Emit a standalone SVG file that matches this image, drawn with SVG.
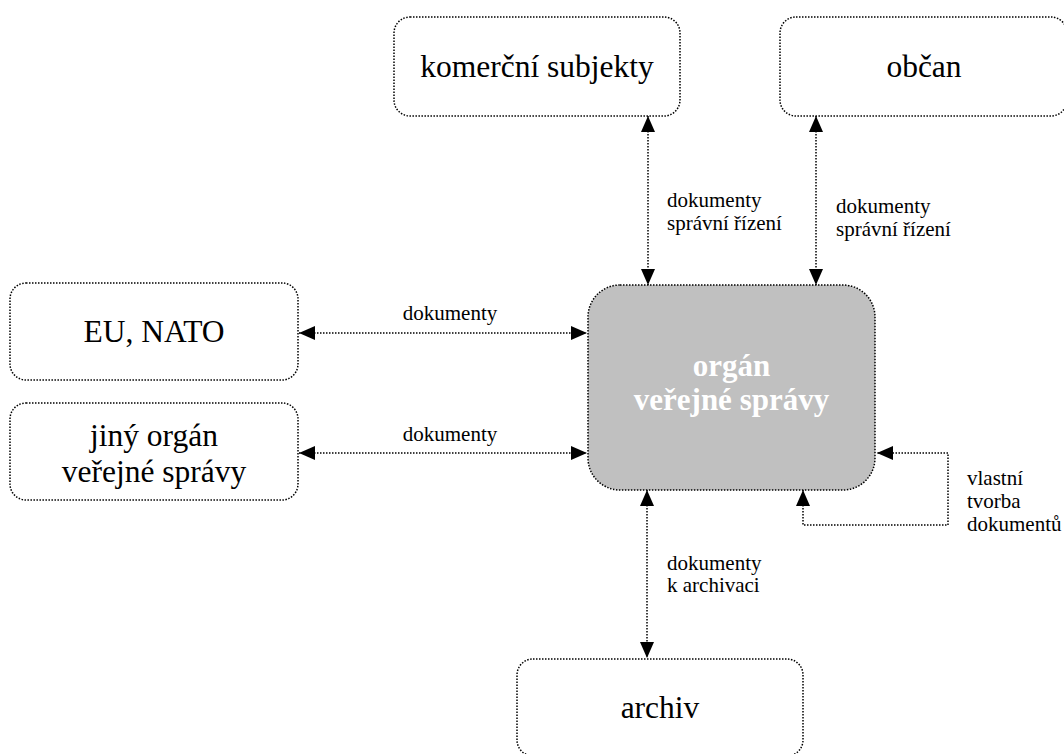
<svg xmlns="http://www.w3.org/2000/svg" width="1064" height="754" viewBox="0 0 1064 754">
<defs>
<marker id="ah" viewBox="0 0 16 14" refX="16" refY="7" markerWidth="16" markerHeight="14" markerUnits="userSpaceOnUse" orient="auto-start-reverse">
<path d="M0,0 L16,7 L0,14 Z" fill="#000"/>
</marker>
</defs>
<style>
.box{fill:#fff;stroke:#000;stroke-width:1.5;stroke-dasharray:1.5 1.5}
.main{fill:#c0c0c0;stroke:#000;stroke-width:1.5;stroke-dasharray:1.5 1.5}
text{font-family:'Liberation Serif','Times New Roman',Times,serif}
.big{font-size:31.5px;fill:#000;text-anchor:middle}
.bold{font-size:31px;font-weight:bold;fill:#fff;text-anchor:middle}
.lbl{font-size:21px;fill:#000}
.con{fill:none;stroke:#000;stroke-width:1.5;stroke-dasharray:1.5 1.5}
</style>
<rect width="1064" height="754" fill="#fff"/>
<g id="komercni">
<rect class="box" x="394" y="17" width="286" height="99" rx="16"/>
<text class="big" x="537" y="77" font-family="Liberation Serif, serif">komerční subjekty</text>
</g>
<g id="obcan">
<rect class="box" x="780" y="17" width="287" height="99" rx="16"/>
<text class="big" x="924" y="77" font-family="Liberation Serif, serif">občan</text>
</g>
<g id="eu">
<rect class="box" x="10" y="283" width="288" height="97" rx="16"/>
<text class="big" x="154" y="342" font-family="Liberation Serif, serif">EU, NATO</text>
</g>
<g id="jiny">
<rect class="box" x="10" y="403" width="288" height="97" rx="16"/>
<text class="big" x="154" y="446" font-family="Liberation Serif, serif">jiný orgán</text>
<text class="big" x="154" y="482" font-family="Liberation Serif, serif">veřejné správy</text>
</g>
<g id="organ">
<rect class="main" x="588" y="285" width="287" height="205" rx="32"/>
<text class="bold" x="731.5" y="376" font-family="Liberation Serif, serif">orgán</text>
<text class="bold" x="731.5" y="410" font-family="Liberation Serif, serif">veřejné správy</text>
</g>
<g id="archiv">
<rect class="box" x="517" y="659" width="286" height="97" rx="16"/>
<text class="big" x="660" y="718" font-family="Liberation Serif, serif">archiv</text>
</g>
<g id="connectors">
<line class="con" x1="648" y1="116" x2="648" y2="285" marker-start="url(#ah)" marker-end="url(#ah)"/>
<line class="con" x1="816" y1="116" x2="816" y2="285" marker-start="url(#ah)" marker-end="url(#ah)"/>
<line class="con" x1="299" y1="333" x2="587" y2="333" marker-start="url(#ah)" marker-end="url(#ah)"/>
<line class="con" x1="299" y1="453" x2="587" y2="453" marker-start="url(#ah)" marker-end="url(#ah)"/>
<line class="con" x1="647" y1="490" x2="647" y2="658" marker-start="url(#ah)" marker-end="url(#ah)"/>
<polyline class="con" points="803,490 803,525 948,525 948,453 877,453" marker-start="url(#ah)" marker-end="url(#ah)"/>
</g>
<g id="labels" font-family="Liberation Serif, serif">
<text class="lbl" x="667" y="207">dokumenty</text>
<text class="lbl" x="667" y="230">správní řízení</text>
<text class="lbl" x="836" y="213">dokumenty</text>
<text class="lbl" x="836" y="236">správní řízení</text>
<text class="lbl" x="450" y="320" text-anchor="middle">dokumenty</text>
<text class="lbl" x="450" y="441" text-anchor="middle">dokumenty</text>
<text class="lbl" x="667" y="570">dokumenty</text>
<text class="lbl" x="667" y="592">k archivaci</text>
<text class="lbl" x="967" y="485">vlastní</text>
<text class="lbl" x="967" y="508">tvorba</text>
<text class="lbl" x="967" y="531">dokumentů</text>
</g>
</svg>
